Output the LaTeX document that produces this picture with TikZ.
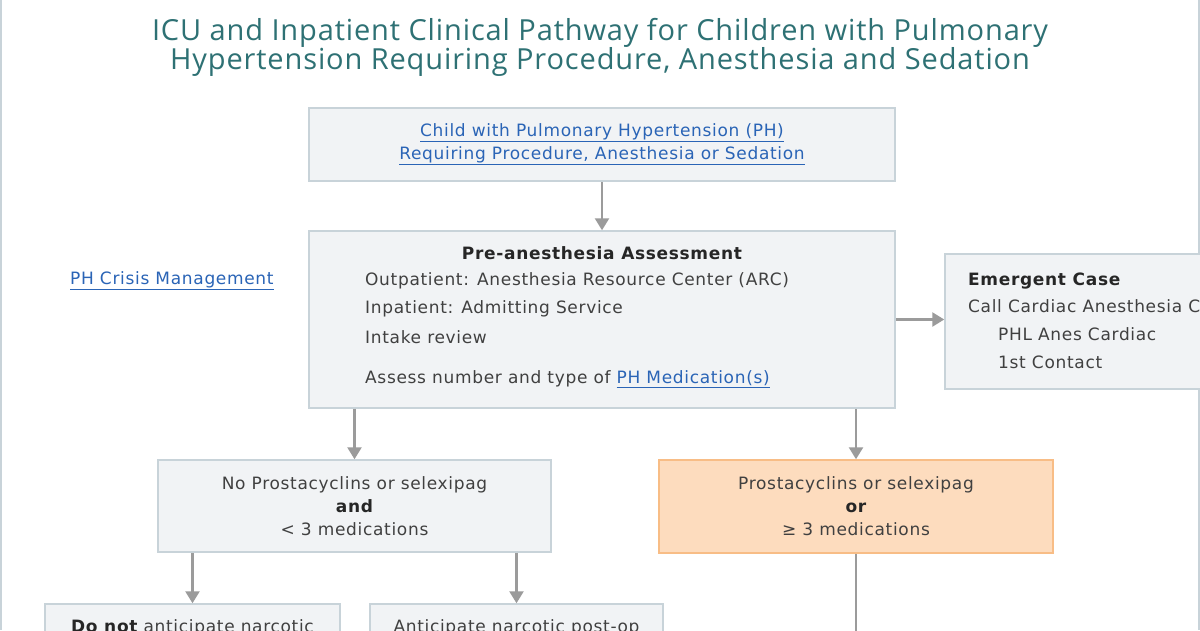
\documentclass[tikz,border=0pt]{standalone}
\usepackage{fontspec}
\setmainfont{DejaVu Sans}[LetterSpace=4]
\newfontfamily\titlefont{Open Sans}[LetterSpace=3]
\usepackage{xcolor}
\usetikzlibrary{positioning, calc, arrows.meta}

\definecolor{titleteal}{HTML}{2E7174}
\definecolor{boxfill}{HTML}{F1F3F5}
\definecolor{boxline}{HTML}{C8D3D9}
\definecolor{orangefill}{HTML}{FDDCBE}
\definecolor{orangeline}{HTML}{F8BD86}
\definecolor{arrowgray}{HTML}{9B9B9B}
\definecolor{linkblue}{HTML}{2A64B6}
\definecolor{textgray}{HTML}{404040}

\newcommand{\pathlink}[1]{{\color{linkblue}\underline{#1}}}

\tikzset{
  graybox/.style={draw=boxline, fill=boxfill, line width=1.5pt, align=center, inner sep=0pt},
  orangebox/.style={draw=orangeline, fill=orangefill, line width=1.5pt, align=center, inner sep=0pt},
  flowarrow/.style={draw=arrowgray, line width=2.5pt, -{Triangle[width=14pt,length=12pt]}},
  flowline/.style={draw=arrowgray, line width=2.5pt},
  bodytext/.style={text=textgray, font=\fontsize{17}{23}\selectfont, inner sep=0pt},
  titletext/.style={text=titleteal, font=\titlefont\fontsize{29}{30}\selectfont, inner sep=0pt}
}

\begin{document}
\begin{tikzpicture}[x=1pt, y=-1pt]

    \clip (0,0) rectangle (1200,630);
    \fill[white] (0,0) rectangle (1200,630);

    % --- Frame ---
    \draw[boxline, line width=2pt] (1,0) -- (1,630);
    \draw[boxline, line width=2pt] (1199,0) -- (1199,630);

    % --- Title ---
    \node[titletext] (title1) at (600,33) {ICU and Inpatient Clinical Pathway for Children with Pulmonary};
    \node[titletext] (title2) at (600,62) {Hypertension Requiring Procedure, Anesthesia and Sedation};

    % --- Top box ---
    \node[graybox, bodytext, minimum width=586, minimum height=73] (child) at (602,144.5)
        {\pathlink{Child with Pulmonary Hypertension (PH)}\\ \pathlink{Requiring Procedure, Anesthesia or Sedation}};

    % --- Assessment box ---
    \node[graybox, minimum width=586, minimum height=177] (pre) at (602,319.5) {};
    \node[bodytext, font=\fontsize{17}{23}\selectfont\bfseries, text=black!85] (pretitle) at (602,253) {Pre-anesthesia Assessment};
    \node[bodytext, anchor=west] (outpt) at (365,281) {Outpatient: Anesthesia Resource Center (ARC)};
    \node[bodytext, anchor=west] (inpt) at (365,309) {Inpatient: Admitting Service};
    \node[bodytext, anchor=west] (intake) at (365,337) {Intake review};
    \node[bodytext, anchor=west] (assess) at (365,379) {Assess number and type of \pathlink{PH Medication(s)}};

    % --- Side link ---
    \node[bodytext, anchor=west] (crisis) at (70,281) {\pathlink{PH Crisis Management}};

    % --- Emergent box ---
    \node[graybox, minimum width=300, minimum height=135] (emergent) at (1095,321.5) {};
    \node[bodytext, anchor=west, font=\fontsize{17}{23}\selectfont\bfseries, text=black!85] (emtitle) at (968,281) {Emergent Case};
    \node[bodytext, anchor=west] (emcall) at (968,306) {Call Cardiac Anesthesia C};
    \node[bodytext, anchor=west] (emphl) at (998,334) {PHL Anes Cardiac};
    \node[bodytext, anchor=west] (emfirst) at (998,362) {1st Contact};

    % --- Medication boxes ---
    \node[graybox, bodytext, minimum width=393, minimum height=92] (noprost) at (354.5,506)
        {No Prostacyclins or selexipag\\ \textbf{\color{black!85}and}\\ < 3 medications};
    \node[orangebox, bodytext, minimum width=394, minimum height=93] (prost) at (856,506.5)
        {Prostacyclins or selexipag\\ \textbf{\color{black!85}or}\\ ≥ 3 medications};

    % --- Bottom boxes ---
    \node[graybox, minimum width=295, minimum height=80] (donot) at (192.5,644) {};
    \node[graybox, minimum width=293, minimum height=80] (antic) at (516.5,644) {};
    \node[bodytext, anchor=base] (donottext) at (192.5,632) {\textbf{\color{black!85}Do not} anticipate narcotic};
    \node[bodytext, anchor=base] (antictext) at (516.5,632) {Anticipate narcotic post-op};
    \coordinate (prostdown) at (856,640);

    % --- Connectors ---
    \draw[flowarrow] (child.south) -- (pre.north);
    \draw[flowarrow] (pre.east) -- (pre.east -| emergent.west);
    \draw[flowarrow] (pre.south -| noprost.north) -- (noprost.north);
    \draw[flowarrow] (pre.south -| prost.north) -- (prost.north);
    \draw[flowarrow] (noprost.south -| donot.north) -- (donot.north);
    \draw[flowarrow] (noprost.south -| antic.north) -- (antic.north);
    \draw[flowline] (prost.south) -- (prostdown);

\end{tikzpicture}
\end{document}
